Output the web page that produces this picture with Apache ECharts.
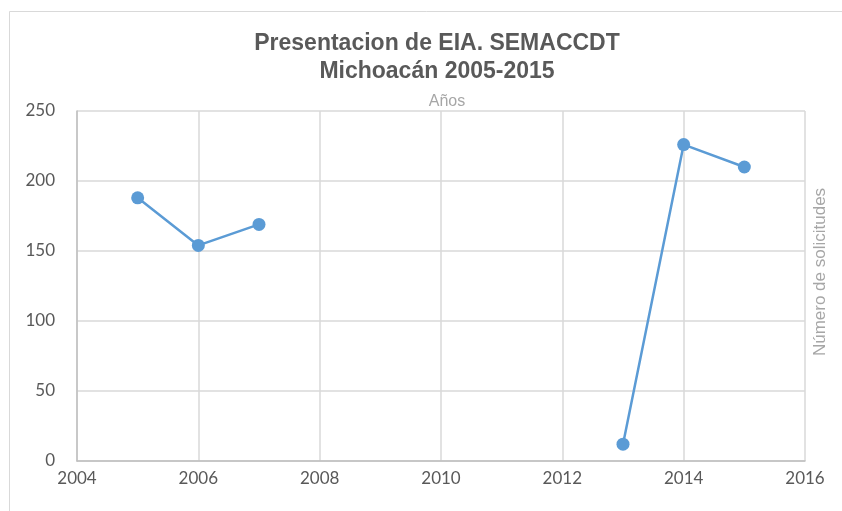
<!DOCTYPE html>
<html>
<head>
<meta charset="utf-8">
<script src="https://cdn.jsdelivr.net/npm/echarts@6/dist/echarts.min.js"></script>
<style>
  html, body { margin: 0; padding: 0; background: #fff; }
  #chart { width: 842px; height: 511px; }
</style>
</head>
<body>
<div id="chart"></div>
<script>
var years = [2005, 2006, 2007, 2008, 2009, 2010, 2011, 2012, 2013, 2014, 2015];
var solicitudes = [188, 154, 169, null, null, null, null, null, 12, 226, 210];

var chart = echarts.init(document.getElementById('chart'));

var seriesData = years.map(function (y, i) {
    return [y, solicitudes[i]];
});

var option = {
    backgroundColor: '#fff',
    animation: false,
    title: [{
        text: 'Presentacion de EIA. SEMACCDT\nMichoacán 2005-2015',
        left: 432,
        top: 25,
        textAlign: 'center',
        textStyle: {
            fontFamily: 'Liberation Sans',
            fontSize: 23,
            fontWeight: 'bold',
            color: '#595959',
            lineHeight: 28
        }
    }, {
        text: 'Años',
        left: 442,
        top: 89,
        textAlign: 'center',
        textStyle: {
            fontFamily: 'Liberation Sans',
            fontSize: 16,
            fontWeight: 'normal',
            color: '#a6a6a6'
        }
    }],
    graphic: [{
        type: 'rect',
        shape: { x: 9.5, y: 11.5, width: 840, height: 510 },
        style: { fill: 'none', stroke: '#d9d9d9', lineWidth: 1 }
    }, {
        type: 'text',
        x: 820,
        y: 272,
        rotation: Math.PI / 2,
        style: {
            text: 'Número de solicitudes',
            fill: '#a6a6a6',
            font: '17px "Liberation Sans"',
            align: 'center',
            verticalAlign: 'middle'
        }
    }],
    grid: { left: 77, right: 37, top: 111, bottom: 50 },
    xAxis: {
        type: 'value',
        min: 2004,
        max: 2016,
        interval: 2,
        axisLine: { lineStyle: { color: '#bfbfbf', width: 1.5 } },
        axisTick: { show: false },
        axisLabel: {
            color: '#595959',
            fontFamily: 'Lato',
            fontSize: 17,
            margin: 9,
            formatter: function (v) { return String(v); }
        },
        splitLine: { show: true, lineStyle: { color: '#d9d9d9', width: 1.5 } }
    },
    yAxis: {
        type: 'value',
        min: 0,
        max: 250,
        interval: 50,
        axisLine: { show: true, lineStyle: { color: '#bfbfbf', width: 1.5 } },
        axisTick: { show: false },
        axisLabel: {
            color: '#595959',
            fontFamily: 'Lato',
            fontSize: 17,
            margin: 22
        },
        splitLine: { show: true, lineStyle: { color: '#d9d9d9', width: 1.5 } }
    },
    series: [{
        type: 'line',
        data: seriesData,
        connectNulls: false,
        symbol: 'circle',
        symbolSize: 13,
        lineStyle: { color: '#5b9bd5', width: 2.5 },
        itemStyle: { color: '#5b9bd5' }
    }]
};

chart.setOption(option);
</script>
</body>
</html>
